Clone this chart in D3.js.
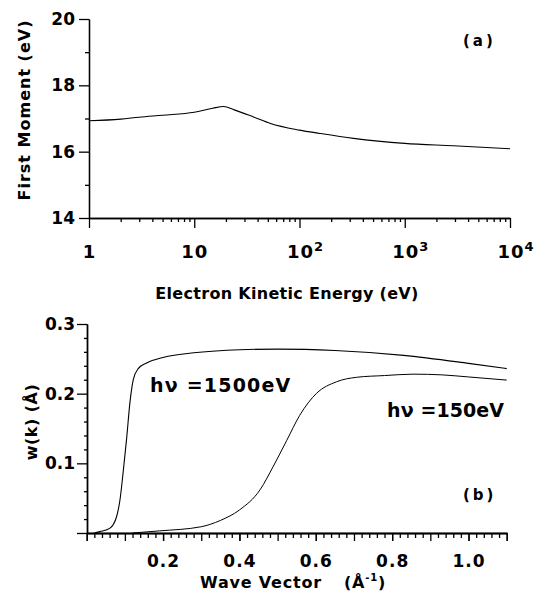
<!DOCTYPE html>
<html><head><meta charset="utf-8">
<script src="https://cdn.jsdelivr.net/npm/d3@7"></script>
<style>
body{margin:0;background:#fff}
svg text{font-family:"DejaVu Sans",sans-serif;font-weight:bold;fill:#000}
.axis path,.axis line{stroke:#000;stroke-width:1.3}
</style>
</head><body><svg id="c" width="540" height="599"></svg>
<script>
// ---------- Panel (a) data ----------
const energy = [1,2,3,5,10,15,19,24,37,53,100,156,326,1000,2900,10000];
const firstMoment = [16.93,16.98,17.04,17.10,17.19,17.31,17.36,17.26,17.04,16.85,16.65,16.55,16.40,16.25,16.18,16.09];
const xTicksA = [1,10,100,1000,10000];
const xTickLabelsA = ["1","10","10^2","10^3","10^4"];
const yTicksA = [14,16,18,20];
const yTickLabelsA = ["14","16","18","20"];
const yMinorA = [15,17,19];

// ---------- Panel (b) data ----------
const k1500 = [0.02,0.035,0.061,0.078,0.087,0.096,0.105,0.113,0.122,0.135,0.157,0.20,0.288,0.40,0.50,0.65,0.83,1.0,1.1];
const w1500 = [0,0.002,0.007,0.023,0.047,0.090,0.138,0.186,0.220,0.236,0.244,0.252,0.259,0.263,0.264,0.262,0.255,0.2435,0.236];
const k150 = [0.12,0.19,0.30,0.35,0.40,0.454,0.488,0.524,0.558,0.602,0.654,0.707,0.78,0.855,0.93,1.0,1.1];
const w150 = [0,0.003,0.009,0.018,0.033,0.062,0.095,0.133,0.169,0.2005,0.217,0.2235,0.226,0.228,0.227,0.224,0.2195];
const xTicksB = [0.2,0.4,0.6,0.8,1.0];
const xTickLabelsB = ["0.2","0.4","0.6","0.8","1.0"];
const yTicksB = [0.1,0.2,0.3];
const yTickLabelsB = ["0.1","0.2","0.3"];

const svg = d3.select("#c");

// ===== Panel (a) =====
const xA = d3.scaleLog().domain([1,1e4]).range([89,510]);
const yA = d3.scaleLinear().domain([14,20]).range([218,19]);

const minorXA = [];
for (let d=1; d<1e4; d*=10) for (let m=2; m<=9; m++) minorXA.push(d*m);

svg.append("g").attr("class","axis").attr("transform","translate(0,218)")
  .call(d3.axisBottom(xA).tickValues(minorXA).tickSize(4).tickSizeOuter(0).tickFormat(""));
const gxa = svg.append("g").attr("class","axis").attr("transform","translate(0,218)")
  .call(d3.axisBottom(xA).tickValues(xTicksA).tickSize(10).tickSizeOuter(0).tickPadding(17)
    .tickFormat((d,i)=>xTickLabelsA[i]));
gxa.selectAll("text").attr("font-size",18).attr("font-family","DejaVu Sans").attr("letter-spacing",1)
  .each(function(){
    const t = d3.select(this), s = t.text();
    if (s.includes("^")) {
      const [b,e] = s.split("^");
      t.text(null).attr("text-anchor","start").attr("x",-13);
      t.append("tspan").text(b);
      t.append("tspan").attr("font-size",13).attr("dy","-0.55em").text(e);
    }
  });

svg.append("g").attr("class","axis").attr("transform","translate(89,0)")
  .call(d3.axisLeft(yA).tickValues(yMinorA).tickSize(4).tickSizeOuter(0).tickFormat(""));
svg.append("g").attr("class","axis").attr("transform","translate(89,0)")
  .call(d3.axisLeft(yA).tickValues(yTicksA).tickSize(10).tickSizeOuter(0).tickPadding(4)
    .tickFormat((d,i)=>yTickLabelsA[i]))
  .selectAll("text").attr("font-size",17).attr("font-family","DejaVu Sans");

const lineA = d3.line().x((d,i)=>xA(energy[i])).y(d=>yA(d)).curve(d3.curveMonotoneX);
svg.append("path").attr("d",lineA(firstMoment)).attr("fill","none").attr("stroke","#000").attr("stroke-width",1.1);

svg.append("text").attr("x",463).attr("y",46).attr("font-size",15).attr("letter-spacing",3).text("(a)");
svg.append("text").attr("x",287).attr("y",299).attr("text-anchor","middle").attr("font-size",16)
  .attr("letter-spacing",0.3).text("Electron Kinetic Energy (eV)");
svg.append("text").attr("transform","translate(30,110) rotate(-90)").attr("text-anchor","middle")
  .attr("font-size",16).attr("letter-spacing",1).text("First Moment (eV)");

// ===== Panel (b) =====
const xB = d3.scaleLinear().domain([0,1.1]).range([86.7,506.7]);
const yB = d3.scaleLinear().domain([0,0.3]).range([533,324]);

const minorXB = d3.range(0,56).map(i=>i*0.02).filter(v=>Math.abs(v*10-Math.round(v*10))>1e-6);
const majorXB = d3.range(0,12).map(i=>i*0.1);
svg.append("g").attr("class","axis").attr("transform","translate(0,533)")
  .call(d3.axisBottom(xB).tickValues(minorXB).tickSize(5).tickSizeOuter(0).tickFormat(""));
svg.append("g").attr("class","axis").attr("transform","translate(0,533)")
  .call(d3.axisBottom(xB).tickValues(majorXB).tickSize(8).tickSizeOuter(8).tickFormat(""));
svg.append("g").attr("class","axis").attr("transform","translate(0,533)")
  .call(d3.axisBottom(xB).tickValues(xTicksB).tickSize(8).tickSizeOuter(0).tickPadding(14)
    .tickFormat((d,i)=>xTickLabelsB[i]))
  .selectAll("text").attr("font-size",17).attr("font-family","DejaVu Sans").attr("letter-spacing",1);

const minorYB = d3.range(0,16).map(i=>i*0.02).filter(v=>Math.abs(v*10-Math.round(v*10))>1e-6);
svg.append("g").attr("class","axis").attr("transform","translate(87,0)")
  .call(d3.axisLeft(yB).tickValues(minorYB).tickSize(3).tickSizeOuter(0).tickFormat(""));
svg.append("g").attr("class","axis").attr("transform","translate(87,0)")
  .call(d3.axisLeft(yB).tickValues([0]).tickSize(10).tickSizeOuter(0).tickFormat(""));
svg.append("g").attr("class","axis").attr("transform","translate(87,0)")
  .call(d3.axisLeft(yB).tickValues(yTicksB).tickSize(10).tickSizeOuter(0).tickPadding(2)
    .tickFormat((d,i)=>yTickLabelsB[i]))
  .selectAll("text").attr("font-size",17).attr("font-family","DejaVu Sans");

const lineB = d3.line().curve(d3.curveMonotoneX);
svg.append("path").attr("d",lineB(k1500.map((k,i)=>[xB(k),yB(w1500[i])])))
  .attr("fill","none").attr("stroke","#000").attr("stroke-width",1.1);
svg.append("path").attr("d",lineB(k150.map((k,i)=>[xB(k),yB(w150[i])])))
  .attr("fill","none").attr("stroke","#000").attr("stroke-width",1);

svg.append("text").attr("x",150).attr("y",392).attr("font-size",19).attr("letter-spacing",1.2).text("hν =1500eV");
svg.append("text").attr("x",387).attr("y",417).attr("font-size",19).attr("letter-spacing",0.1).text("hν =150eV");
svg.append("text").attr("x",463).attr("y",500).attr("font-size",15).attr("letter-spacing",3).text("(b)");

const wt = svg.append("text").attr("x",200).attr("y",588).attr("font-size",16).attr("letter-spacing",0.8);
wt.append("tspan").text("Wave Vector");
wt.append("tspan").attr("dx",22).text("(Å");
wt.append("tspan").attr("font-size",10).attr("dy",-7).text("-1");
wt.append("tspan").attr("dy",7).text(")");

svg.append("text").attr("transform","translate(37,422) rotate(-90)").attr("text-anchor","middle")
  .attr("font-size",16).attr("letter-spacing",0.5).text("w(k) (Å)");
</script>
</body></html>
